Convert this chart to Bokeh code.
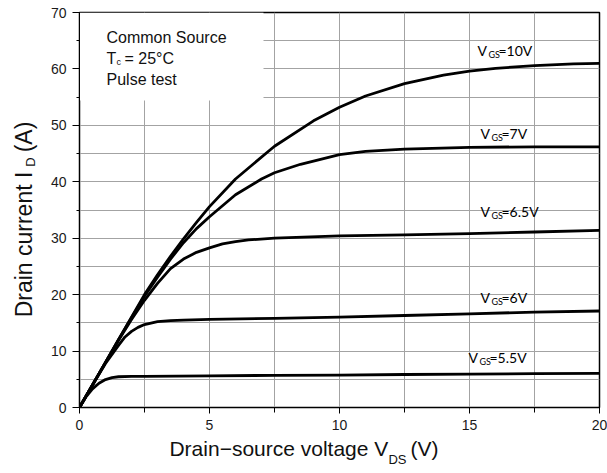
import numpy as np
from bokeh.plotting import figure
from bokeh.models import Range1d, FixedTicker, Label, BoxAnnotation, LinearAxis
from bokeh.embed import file_html
from bokeh.resources import INLINE

# ---------------- data ----------------
vds_10 = [0, 0.5, 1, 1.5, 2, 2.5, 3, 3.5, 4, 4.5, 5, 6, 7.5, 9, 10, 11, 12.5, 14, 15, 16, 17.5, 19, 20]
id_10 = [0, 4.0, 8.0, 12.0, 16.0, 20.0, 23.5, 26.8, 29.9, 32.8, 35.6, 40.5, 46.3, 50.8, 53.2, 55.2, 57.4, 58.9, 59.6, 60.1, 60.6, 60.9, 61.0]

vds_7 = [0, 0.5, 1, 1.5, 2, 2.5, 3, 3.5, 4, 4.5, 5, 6, 7, 7.5, 8.5, 10, 11, 12.5, 15, 17.5, 20]
id_7 = [0, 4.0, 8.0, 12.0, 15.9, 19.7, 23.1, 26.3, 29.2, 31.7, 33.8, 37.7, 40.5, 41.6, 43.1, 44.8, 45.4, 45.8, 46.1, 46.2, 46.2]

vds_65 = [0, 0.5, 1, 1.5, 2, 2.5, 3, 3.5, 4, 4.5, 5, 5.5, 6, 6.5, 7.5, 10, 12.5, 15, 17.5, 20]
id_65 = [0, 4.0, 8.0, 11.9, 15.6, 19.0, 22.0, 24.6, 26.3, 27.5, 28.3, 29.0, 29.4, 29.7, 30.0, 30.4, 30.6, 30.8, 31.1, 31.4]

vds_6 = [0, 0.5, 1, 1.25, 1.5, 1.75, 2, 2.25, 2.5, 3, 3.5, 4, 5, 7.5, 10, 12.5, 15, 17.5, 20]
id_6 = [0, 4.0, 7.8, 9.4, 11.0, 12.5, 13.5, 14.2, 14.7, 15.2, 15.4, 15.5, 15.6, 15.8, 16.0, 16.3, 16.6, 16.9, 17.1]

vds_55 = [0, 0.25, 0.5, 0.75, 1, 1.25, 1.5, 2, 2.5, 5, 7.5, 10, 12.5, 15, 17.5, 20]
id_55 = [0, 1.9, 3.3, 4.3, 4.95, 5.3, 5.45, 5.5, 5.5, 5.6, 5.7, 5.75, 5.85, 5.9, 6.0, 6.05]

curve_names = ["10V", "7V", "6.5V", "6V", "5.5V"]

x_ticks = [0, 5, 10, 15, 20]
x_minor = [2.5, 7.5, 12.5, 17.5]
y_ticks = [0, 10, 20, 30, 40, 50, 60, 70]
y_minor = [5, 15, 25, 35, 45, 55, 65]

x_title = ["Drain\u2212source voltage V", "DS", "(V)"]
y_title = ["Drain current I", "D", "(A)"]

# ---------------- figure ----------------
W, H = 607, 473
BL, BR, BT, BB = 79, 8, 12, 66
X0, X1, Y0, Y1 = 0, 20, 0, 70

p = figure(width=W, height=H, output_backend="svg", toolbar_location=None,
           x_range=Range1d(X0, X1), y_range=Range1d(Y0, Y1),
           min_border_left=BL, min_border_right=BR, min_border_top=BT, min_border_bottom=BB,
           background_fill_color="white", border_fill_color="white")

FW, FH = W - BL - BR, H - BT - BB
def px2x(px):
    return X0 + (px - BL) / FW * (X1 - X0)
def py2y(py):
    return Y1 - (py - BT) / FH * (Y1 - Y0)

xa = p.xaxis[0]
ya = p.yaxis[0]

GRID = "#a3a3a3"
xa.ticker = FixedTicker(ticks=x_ticks, minor_ticks=x_minor)
ya.ticker = FixedTicker(ticks=y_ticks, minor_ticks=y_minor)
for g in (p.xgrid, p.ygrid):
    g.grid_line_color = GRID
    g.grid_line_width = 1
    g.minor_grid_line_color = GRID
    g.minor_grid_line_width = 1

for ax in (xa, ya):
    ax.axis_line_color = "black"
    ax.axis_line_width = 1
    ax.major_tick_line_color = "black"
    ax.minor_tick_line_color = "black"
    ax.major_tick_in = 0
    ax.minor_tick_in = 0
    ax.major_label_text_font = "Liberation Sans"
    ax.major_label_text_font_size = "14px"
    ax.major_label_text_color = "#1a1a1a"
xa.major_tick_out = 6
xa.minor_tick_out = 5
xa.major_label_standoff = 6
ya.major_tick_out = 7
ya.minor_tick_out = 3
ya.major_label_standoff = 6

p.outline_line_color = "black"
p.outline_line_width = 1.5


def title_axis(ticks, texts, size, standoff, orientation="horizontal"):
    ov = {t: s for t, s in zip(ticks, texts)}
    ax = LinearAxis(ticker=FixedTicker(ticks=ticks, minor_ticks=[]),
                    major_label_overrides=ov,
                    axis_line_color=None, major_tick_line_color=None, minor_tick_line_color=None,
                    major_tick_in=0, major_tick_out=0, minor_tick_in=0, minor_tick_out=0,
                    major_label_text_font="Liberation Sans",
                    major_label_text_font_size=f"{size}px",
                    major_label_text_color="#111111",
                    major_label_standoff=standoff,
                    major_label_orientation=orientation)
    return ax

# x axis title: main text + (V), then subscript DS
xt_main = [round(px2x(278.4), 3), round(px2x(424.0), 3)]
xt_sub = [round(px2x(397.0), 3)]
p.add_layout(title_axis(xt_main, [x_title[0], x_title[2]], 21, 4), "below")
p.add_layout(title_axis(xt_sub, [x_title[1]], 13, -11), "below")

# y axis title (vertical)
yt_main = [round(py2y(244.0), 3), round(py2y(136.5), 3)]
yt_sub = [round(py2y(161.5), 3)]
p.add_layout(title_axis(yt_main, [y_title[0], y_title[2]], 23, 10, "vertical"), "left")
p.add_layout(title_axis(yt_sub, [y_title[1]], 13, -30, "vertical"), "left")

# white box behind the condition text
box = BoxAnnotation(left=0, right=px2x(263), bottom=py2y(100), top=70,
                    fill_color="white", fill_alpha=1.0, line_alpha=0, level="underlay")
p.add_layout(box)

# curves
for xs, ys in [(vds_10, id_10), (vds_7, id_7), (vds_65, id_65), (vds_6, id_6), (vds_55, id_55)]:
    p.line(xs, ys, line_color="black", line_width=2.8, line_join="round", line_cap="round")

SHIFT = -5  # empirical baseline correction
def lab(px, py, text, size, font="Liberation Sans", color="#111111"):
    p.add_layout(Label(x=px2x(px), y=py2y(py + SHIFT), text=text, text_font=font,
                       text_font_size=f"{size}px", text_color=color,
                       text_align="left", text_baseline="alphabetic"))

# curve labels: V_GS=...
label_px = [(477, 55), (480, 138), (480, 216), (480, 301.5), (468, 361.5)]
for (lx, ly), name in zip(label_px, curve_names):
    lab(lx, ly, "V", 14, font="Lato", color="black")
    lab(lx + 11, ly + 4, "GS", 9, font="Lato", color="black")
    lab(lx + 21, ly, "=" + name, 14, font="Lato", color="black")

# condition text
lab(106, 41.5, "Common Source", 16)
lab(106, 63, "T", 16)
lab(116, 66, "c", 9)
lab(124, 63, "= 25°C", 16)
lab(106, 84, "Pulse test", 16)

open("out.html", "w").write(file_html(p, INLINE))
